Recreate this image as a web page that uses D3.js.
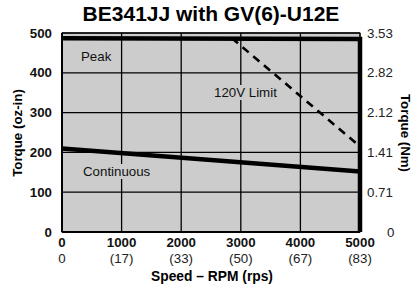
<!DOCTYPE html>
<html><head><meta charset="utf-8">
<script src="https://cdn.jsdelivr.net/npm/d3@7"></script>
<style>body{margin:0;background:#fff}svg{display:block;font-family:"Liberation Sans",Arial,sans-serif}</style>
</head><body><svg id="c" width="415" height="293"></svg>
<script>
const speedTicks = [0,1000,2000,3000,4000,5000];
const rpsLabels = ["0","(17)","(33)","(50)","(67)","(83)"];
const torqueTicks = [0,100,200,300,400,500];
const nmLabels = ["0","0.71","1.41","2.12","2.82","3.53"];
const peakSpeed = [0,5000,5000];
const peakTorque = [487,485,0];
const contSpeed = [0,5000];
const contTorque = [210,152];
const limitSpeed = [2850,5000];
const limitTorque = [487,215];

const svg = d3.select("#c");
const x = d3.scaleLinear().domain([0,5000]).range([62,360]);
const y = d3.scaleLinear().domain([0,500]).range([232,33]);
const FS = 13.3;

svg.append("rect").attr("x",x(0)).attr("y",y(500)).attr("width",x(5000)-x(0)).attr("height",y(0)-y(500))
  .attr("fill","#cccccc").attr("stroke","#222").attr("stroke-width",1);

const g = svg.append("g");
speedTicks.forEach(t=>{ g.append("line").attr("x1",x(t)).attr("x2",x(t)).attr("y1",y(0)).attr("y2",y(500)).attr("stroke","#000").attr("stroke-width",1.3); });
torqueTicks.forEach(t=>{ g.append("line").attr("x1",x(0)).attr("x2",x(5000)).attr("y1",y(t)).attr("y2",y(t)).attr("stroke","#000").attr("stroke-width",1.3); });
g.append("line").attr("x1",x(0)).attr("x2",x(5000)).attr("y1",y(0)).attr("y2",y(0)).attr("stroke","#000").attr("stroke-width",2);
g.append("line").attr("x1",x(0)).attr("x2",x(0)).attr("y1",y(0)).attr("y2",y(500)).attr("stroke","#000").attr("stroke-width",2);

const line = d3.line().x(d=>x(d[0])).y(d=>y(d[1]));
svg.append("path").attr("d",line(peakSpeed.map((s,i)=>[s,peakTorque[i]]))).attr("fill","none").attr("stroke","#000").attr("stroke-width",4.5);
svg.append("path").attr("d",line(contSpeed.map((s,i)=>[s,contTorque[i]]))).attr("fill","none").attr("stroke","#000").attr("stroke-width",4.5);
svg.append("path").attr("d",line(limitSpeed.map((s,i)=>[s,limitTorque[i]]))).attr("fill","none").attr("stroke","#000").attr("stroke-width",2.6).attr("stroke-dasharray","8,6");

svg.append("text").attr("x",211).attr("y",21).attr("text-anchor","middle").attr("font-size",21).attr("font-weight","bold").text("BE341JJ with GV(6)-U12E");

torqueTicks.forEach((t,i)=>{
  svg.append("text").attr("x",52).attr("y",y(t)+4.5).attr("text-anchor","end").attr("font-size",FS).attr("font-weight","bold").attr("fill","#111").text(t);
  svg.append("text").attr("x",i==0?387:367).attr("y",y(t)+4.5).attr("text-anchor","start").attr("font-size",FS).attr("fill","#222").text(nmLabels[i]);
});
speedTicks.forEach((t,i)=>{
  svg.append("text").attr("x",x(t)).attr("y",247).attr("text-anchor","middle").attr("font-size",FS).attr("font-weight","bold").attr("fill","#111").text(t);
  svg.append("text").attr("x",x(t)).attr("y",263).attr("text-anchor","middle").attr("font-size",FS).attr("fill","#222").text(rpsLabels[i]);
});
svg.append("text").attr("x",212).attr("y",281).attr("text-anchor","middle").attr("font-size",FS+0.5).attr("font-weight","bold").text("Speed – RPM (rps)");
svg.append("text").attr("transform","translate(22,133) rotate(-90)").attr("text-anchor","middle").attr("font-size",FS).attr("font-weight","bold").text("Torque (oz-in)");
svg.append("text").attr("transform","translate(401,133) rotate(90)").attr("text-anchor","middle").attr("font-size",FS).attr("font-weight","bold").text("Torque (Nm)");

function label(tx,ty,s){
  const t = svg.append("text").attr("x",tx).attr("y",ty).attr("font-size",FS).attr("fill","#111").text(s);
  const b = t.node().getBBox();
  svg.insert("rect", function(){return t.node();}).attr("x",b.x-2).attr("y",b.y).attr("width",b.width+4).attr("height",b.height).attr("fill","#cccccc");
}
label(81,61,"Peak");
label(214,97,"120V Limit");
label(83,176,"Continuous");
</script></body></html>
